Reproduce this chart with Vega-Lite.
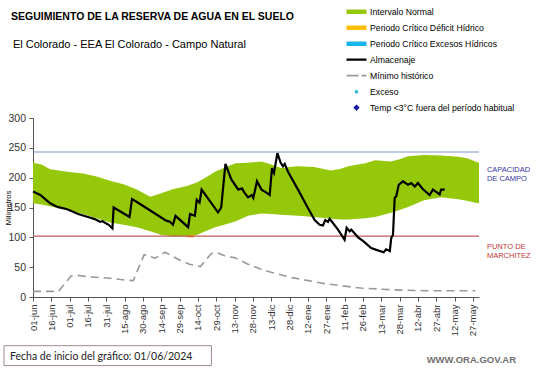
{
  "$schema": "https://vega.github.io/schema/vega-lite/v6.json",
  "width": 446,
  "height": 179,
  "autosize": {"type": "none"},
  "padding": {"left": 33, "top": 118, "right": 62, "bottom": 71},
  "background": "white",
  "config": {
    "font": "Liberation Sans",
    "view": {"stroke": null},
    "axis": {"labelOverlap": false, "grid": false, "tickSize": 4, "tickColor": "#555555", "domainColor": "#555555", "labelColor": "#333333", "labelFont": "Liberation Sans"}
  },
  "datasets": {
    "series": [
      {"serie": "Intervalo Normal"},
      {"serie": "Periodo Crítico Déficit Hídrico"},
      {"serie": "Periodo Crítico Excesos Hídricos"},
      {"serie": "Almacenaje"},
      {"serie": "Mínimo histórico"},
      {"serie": "Exceso"},
      {"serie": "Temp <3°C fuera del período habitual"}
    ],
    "band": [
      {"day": 0, "lo": 157, "hi": 225},
      {"day": 7, "lo": 155, "hi": 222},
      {"day": 14, "lo": 152, "hi": 214},
      {"day": 28, "lo": 146, "hi": 210},
      {"day": 41, "lo": 139, "hi": 207},
      {"day": 52, "lo": 132, "hi": 202},
      {"day": 63, "lo": 125, "hi": 195},
      {"day": 74, "lo": 121, "hi": 189},
      {"day": 85, "lo": 117, "hi": 180},
      {"day": 96, "lo": 110, "hi": 168},
      {"day": 105, "lo": 104, "hi": 174},
      {"day": 115, "lo": 102, "hi": 181},
      {"day": 126, "lo": 102, "hi": 186},
      {"day": 134, "lo": 104, "hi": 192},
      {"day": 141, "lo": 110, "hi": 200},
      {"day": 149, "lo": 117, "hi": 210},
      {"day": 158, "lo": 122, "hi": 218},
      {"day": 166, "lo": 127, "hi": 224},
      {"day": 176, "lo": 136, "hi": 225},
      {"day": 187, "lo": 140, "hi": 227},
      {"day": 195, "lo": 139, "hi": 222},
      {"day": 203, "lo": 138, "hi": 216},
      {"day": 210, "lo": 137, "hi": 218},
      {"day": 217, "lo": 136, "hi": 219},
      {"day": 230, "lo": 134, "hi": 218},
      {"day": 244, "lo": 131, "hi": 212},
      {"day": 252, "lo": 130, "hi": 215},
      {"day": 258, "lo": 130, "hi": 219},
      {"day": 266, "lo": 131, "hi": 222},
      {"day": 272, "lo": 132, "hi": 224},
      {"day": 280, "lo": 134, "hi": 229},
      {"day": 293, "lo": 141, "hi": 227},
      {"day": 300, "lo": 146, "hi": 231},
      {"day": 307, "lo": 151, "hi": 236},
      {"day": 320, "lo": 162, "hi": 238},
      {"day": 334, "lo": 167, "hi": 237},
      {"day": 348, "lo": 164, "hi": 235},
      {"day": 356, "lo": 161, "hi": 232},
      {"day": 362, "lo": 158, "hi": 227},
      {"day": 365, "lo": 157, "hi": 225}
    ],
    "deficit": [
      {"day": 126, "lo": 100, "hi": 104},
      {"day": 132, "lo": 100, "hi": 104}
    ],
    "almacenaje": [
      {"day": 0, "v": 177}, {"day": 3, "v": 174}, {"day": 6, "v": 171}, {"day": 10, "v": 164},
      {"day": 14, "v": 157}, {"day": 20, "v": 151}, {"day": 28, "v": 147}, {"day": 37, "v": 139},
      {"day": 45, "v": 134}, {"day": 50, "v": 131}, {"day": 55, "v": 126}, {"day": 57, "v": 127},
      {"day": 60, "v": 123}, {"day": 62, "v": 121}, {"day": 64, "v": 117}, {"day": 65, "v": 115},
      {"day": 66, "v": 150}, {"day": 79, "v": 134}, {"day": 81, "v": 164}, {"day": 86, "v": 158},
      {"day": 109, "v": 128}, {"day": 112, "v": 126}, {"day": 114.6, "v": 121}, {"day": 116.6, "v": 136},
      {"day": 127, "v": 117}, {"day": 128.5, "v": 139}, {"day": 132.5, "v": 136}, {"day": 134, "v": 163},
      {"day": 136.3, "v": 158}, {"day": 138, "v": 180}, {"day": 151.4, "v": 142}, {"day": 154, "v": 150},
      {"day": 157.5, "v": 223}, {"day": 162.3, "v": 197}, {"day": 168, "v": 180}, {"day": 171, "v": 182},
      {"day": 173, "v": 175}, {"day": 176, "v": 167}, {"day": 179, "v": 171}, {"day": 180.3, "v": 166},
      {"day": 183.3, "v": 194}, {"day": 187, "v": 180}, {"day": 191, "v": 175}, {"day": 193.7, "v": 171},
      {"day": 195.6, "v": 216}, {"day": 197.2, "v": 208}, {"day": 200, "v": 241}, {"day": 202.7, "v": 225},
      {"day": 204.6, "v": 219}, {"day": 206, "v": 223}, {"day": 208.7, "v": 210}, {"day": 216.9, "v": 180},
      {"day": 225, "v": 149}, {"day": 230.5, "v": 129}, {"day": 234.6, "v": 121}, {"day": 237.3, "v": 120},
      {"day": 239.2, "v": 129}, {"day": 241.4, "v": 126}, {"day": 242.8, "v": 131}, {"day": 249.6, "v": 113},
      {"day": 255, "v": 96}, {"day": 256.7, "v": 116}, {"day": 259.2, "v": 110}, {"day": 260.5, "v": 113},
      {"day": 266, "v": 100}, {"day": 270, "v": 94}, {"day": 276.8, "v": 82}, {"day": 281, "v": 79},
      {"day": 287, "v": 75}, {"day": 289, "v": 80}, {"day": 292, "v": 77}, {"day": 293.2, "v": 99},
      {"day": 294.6, "v": 104}, {"day": 296, "v": 166}, {"day": 297.3, "v": 169}, {"day": 299.3, "v": 188},
      {"day": 301, "v": 191}, {"day": 302.8, "v": 194}, {"day": 306.9, "v": 188}, {"day": 309.6, "v": 191},
      {"day": 312.4, "v": 185}, {"day": 315, "v": 191}, {"day": 319, "v": 181}, {"day": 324.6, "v": 171},
      {"day": 327.3, "v": 180}, {"day": 332.8, "v": 172}, {"day": 334, "v": 180}, {"day": 337, "v": 180}
    ],
    "minimo": [
      {"day": 0, "v": 9.5}, {"day": 21, "v": 9.5}, {"day": 31, "v": 35}, {"day": 38, "v": 36},
      {"day": 47, "v": 33.5}, {"day": 63, "v": 31.5}, {"day": 77, "v": 28}, {"day": 82, "v": 27.5},
      {"day": 91, "v": 71}, {"day": 100, "v": 65}, {"day": 108, "v": 75}, {"day": 120, "v": 62},
      {"day": 128, "v": 55}, {"day": 137, "v": 51}, {"day": 146, "v": 73}, {"day": 151, "v": 74},
      {"day": 158, "v": 68}, {"day": 165, "v": 66}, {"day": 176, "v": 55}, {"day": 181, "v": 51},
      {"day": 186, "v": 47}, {"day": 194, "v": 42}, {"day": 213, "v": 32}, {"day": 240, "v": 22},
      {"day": 268, "v": 15}, {"day": 295, "v": 12}, {"day": 322, "v": 10.5}, {"day": 362, "v": 10.5}
    ]
  },
  "layer": [
    {
      "data": {"name": "band"},
      "mark": {"type": "area", "opacity": 1, "color": "#96c80a"},
      "encoding": {
        "x": {
          "field": "day", "type": "quantitative",
          "scale": {"domain": [0, 365], "nice": false, "zero": false},
          "axis": {
            "title": null, "grid": false, "tickCount": 40,
            "values": [0, 15, 30, 45, 60, 75, 90, 105, 120, 135, 150, 165, 180, 195, 210, 225, 240, 255, 270, 285, 300, 315, 330, 345, 360],
            "labelExpr": "['01-jun','16-jun','01-jul','16-jul','31-jul','15-ago','30-ago','14-sep','29-sep','14-oct','29-oct','13-nov','28-nov','13-dic','28-dic','12-ene','27-ene','11-feb','26-feb','13-mar','28-mar','12-abr','27-abr','12-may','27-may'][round(datum.value/15)]",
            "labelAngle": 270, "labelAlign": "right", "labelBaseline": "middle",
            "labelFont": "Liberation Sans", "labelFontSize": 9.5, "labelColor": "#333333",
            "labelPadding": 3, "labelOverlap": false,
            "tickSize": 4, "tickColor": "#555555", "domainColor": "#555555"
          }
        },
        "y": {
          "field": "hi", "type": "quantitative",
          "scale": {"domain": [0, 300], "nice": false},
          "axis": {
            "title": "Milímetros", "grid": false, "tickCount": 10,
            "values": [0, 50, 100, 150, 200, 250, 300],
            "titleFont": "Liberation Sans", "titleFontSize": 7.5, "titleFontWeight": "normal", "titleColor": "#000000",
            "titleX": -21, "titleY": 89.5, "titleAngle": 270, "titleAlign": "center", "titleBaseline": "bottom",
            "labelFont": "Liberation Sans", "labelFontSize": 10.5, "labelColor": "#333333", "labelPadding": 3.5,
            "tickSize": 4, "tickColor": "#555555", "domainColor": "#555555"
          }
        },
        "y2": {"field": "lo"}
      }
    },
    {
      "data": {"name": "deficit"},
      "mark": {"type": "area", "opacity": 1, "color": "#f5a800"},
      "encoding": {
        "x": {"field": "day", "type": "quantitative"},
        "y": {"field": "hi", "type": "quantitative"},
        "y2": {"field": "lo"}
      }
    },
    {
      "data": {"values": [{}]},
      "mark": {"type": "rule", "color": "#7f96c8", "strokeWidth": 1.2},
      "encoding": {"y": {"datum": 243}}
    },
    {
      "data": {"values": [{}]},
      "mark": {"type": "rule", "color": "#c05656", "strokeWidth": 1.2},
      "encoding": {"y": {"datum": 102}}
    },
    {
      "data": {"name": "minimo"},
      "mark": {"type": "line", "strokeWidth": 1.6, "strokeDash": [8, 5], "color": "#999999"},
      "encoding": {
        "x": {"field": "day", "type": "quantitative"},
        "y": {"field": "v", "type": "quantitative"}
      }
    },
    {
      "data": {"name": "almacenaje"},
      "mark": {"type": "line", "strokeWidth": 2.2, "color": "#000000"},
      "encoding": {
        "x": {"field": "day", "type": "quantitative"},
        "y": {"field": "v", "type": "quantitative"}
      }
    },
    {
      "data": {"name": "series"},
      "mark": {"type": "point", "filled": false, "opacity": 0},
      "encoding": {
        "color": {
          "field": "serie", "type": "nominal",
          "scale": {
            "domain": ["Intervalo Normal", "Periodo Crítico Déficit Hídrico", "Periodo Crítico Excesos Hídricos", "Almacenaje", "Mínimo histórico", "Exceso", "Temp <3°C fuera del período habitual"],
            "range": ["#96c80a", "#ffbf00", "#1ab4ec", "#000000", "#999999", "#33c0d0", "#1c1ca0"]
          },
          "legend": {
            "title": null, "orient": "none", "legendX": 311, "legendY": -114.3, "padding": 0,
            "symbolOpacity": 1, "labelFont": "Liberation Sans", "labelFontSize": 8.7, "labelColor": "#000000",
            "labelOffset": 1, "rowPadding": 0, "clipHeight": 15.9, "labelLimit": 250
          }
        },
        "shape": {
          "field": "serie", "type": "nominal",
          "scale": {
            "domain": ["Intervalo Normal", "Periodo Crítico Déficit Hídrico", "Periodo Crítico Excesos Hídricos", "Almacenaje", "Mínimo histórico", "Exceso", "Temp <3°C fuera del período habitual"],
            "range": ["M-1,0H1", "M-1,0H1", "M-1,0H1", "M-1,0H1", "M-1,0H1", "circle", "diamond"]
          }
        },
        "size": {
          "field": "serie", "type": "nominal",
          "scale": {
            "type": "ordinal",
            "domain": ["Intervalo Normal", "Periodo Crítico Déficit Hídrico", "Periodo Crítico Excesos Hídricos", "Almacenaje", "Mínimo histórico", "Exceso", "Temp <3°C fuera del período habitual"],
            "range": [400, 400, 400, 400, 400, 3, 8]
          }
        },
        "strokeWidth": {
          "field": "serie", "type": "nominal",
          "scale": {
            "type": "ordinal",
            "domain": ["Intervalo Normal", "Periodo Crítico Déficit Hídrico", "Periodo Crítico Excesos Hídricos", "Almacenaje", "Mínimo histórico", "Exceso", "Temp <3°C fuera del período habitual"],
            "range": [4.5, 4.5, 4.5, 2.2, 1.8, 2, 2.6]
          }
        },
        "strokeDash": {
          "field": "serie", "type": "nominal",
          "scale": {
            "domain": ["Intervalo Normal", "Periodo Crítico Déficit Hídrico", "Periodo Crítico Excesos Hídricos", "Almacenaje", "Mínimo histórico", "Exceso", "Temp <3°C fuera del período habitual"],
            "range": [[1, 0], [1, 0], [1, 0], [1, 0], [12, 3], [1, 0], [1, 0]]
          }
        }
      }
    },
    {
      "data": {"values": [{}]},
      "mark": {"type": "text", "text": "SEGUIMIENTO DE LA RESERVA DE AGUA  EN EL SUELO", "align": "left", "baseline": "alphabetic", "fontSize": 10.5, "fontWeight": "bold", "color": "#000000", "font": "Liberation Sans"},
      "encoding": {"x": {"datum": -18}, "y": {"datum": 465}}
    },
    {
      "data": {"values": [{}]},
      "mark": {"type": "text", "text": "El Colorado - EEA El Colorado - Campo Natural", "align": "left", "baseline": "alphabetic", "fontSize": 11, "color": "#000000", "font": "Liberation Sans"},
      "encoding": {"x": {"datum": -16.4}, "y": {"datum": 417.8}}
    },
    {
      "data": {"values": [{}]},
      "mark": {"type": "text", "text": ["CAPACIDAD", "DE  CAMPO"], "align": "left", "baseline": "alphabetic", "fontSize": 7.5, "lineHeight": 9, "color": "#3535a5", "font": "Liberation Sans"},
      "encoding": {"x": {"datum": 371.5}, "y": {"datum": 208.8}}
    },
    {
      "data": {"values": [{}]},
      "mark": {"type": "text", "text": ["PUNTO  DE", "MARCHITEZ"], "align": "left", "baseline": "alphabetic", "fontSize": 7.5, "lineHeight": 9, "color": "#c03535", "font": "Liberation Sans"},
      "encoding": {"x": {"datum": 371.5}, "y": {"datum": 80.9}}
    },
    {
      "data": {"values": [{}]},
      "mark": {"type": "rect", "fill": "white", "stroke": "#9e8a8a", "strokeWidth": 1},
      "encoding": {"x": {"datum": -23.7}, "x2": {"datum": 146}, "y": {"datum": -81.6}, "y2": {"datum": -115}}
    },
    {
      "data": {"values": [{}]},
      "mark": {"type": "text", "text": "Fecha de inicio del gráfico:  01/06/2024", "align": "left", "baseline": "alphabetic", "fontSize": 10.5, "color": "#222222", "font": "Lato"},
      "encoding": {"x": {"datum": -18.8}, "y": {"datum": -105.9}}
    },
    {
      "data": {"values": [{}]},
      "mark": {"type": "text", "text": "WWW.ORA.GOV.AR", "align": "right", "baseline": "alphabetic", "fontSize": 9.5, "fontWeight": "bold", "color": "#707070", "font": "Liberation Sans"},
      "encoding": {"x": {"datum": 395.3}, "y": {"datum": -111}}
    }
  ]
}
